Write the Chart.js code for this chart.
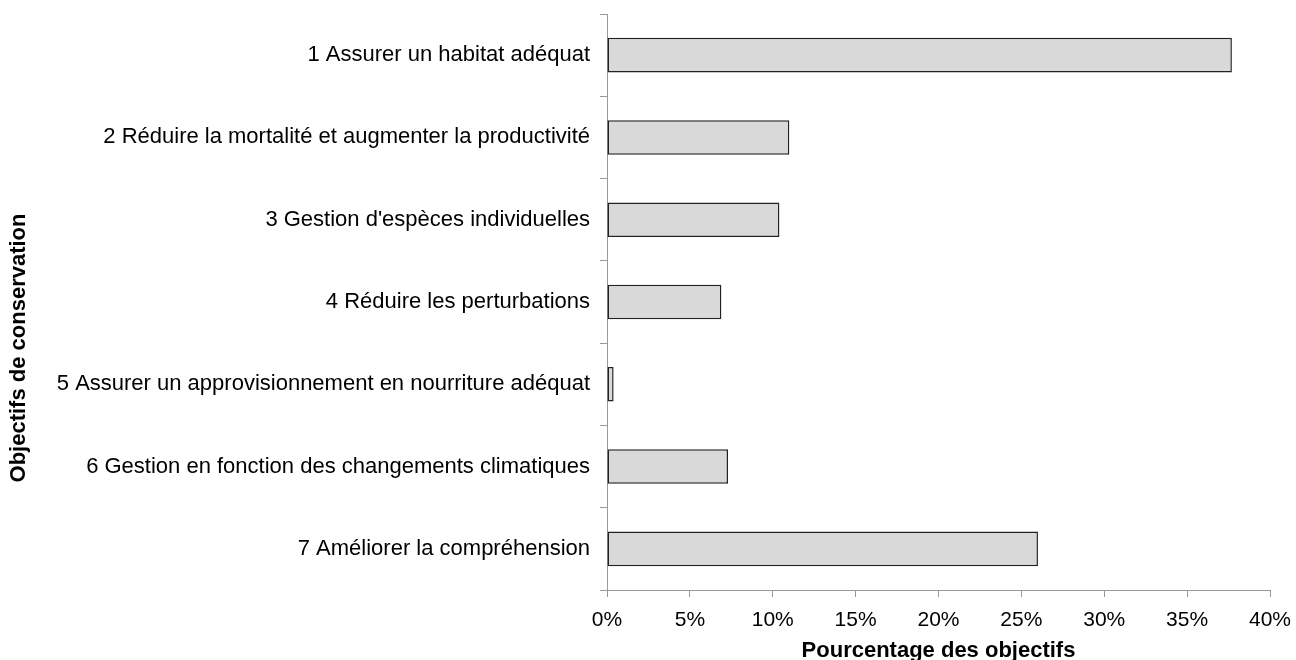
<!DOCTYPE html>
<html>
<head>
<meta charset="utf-8">
<script src="https://cdn.jsdelivr.net/npm/chart.js@4/dist/chart.umd.min.js"></script>
<style>
  html, body { margin: 0; padding: 0; background: #fff; }
  #wrap { width: 1296px; height: 660px; }
</style>
</head>
<body>
<div id="wrap"><canvas id="chart"></canvas></div>
<script>
// ===== Data =====
const categories = [
    "1 Assurer un habitat adéquat",
    "2 Réduire la mortalité et augmenter la productivité",
    "3 Gestion d'espèces individuelles",
    "4 Réduire les perturbations",
    "5 Assurer un approvisionnement en nourriture adéquat",
    "6 Gestion en fonction des changements climatiques",
    "7 Améliorer la compréhension"
];
const percentages = [37.7, 11.0, 10.4, 6.9, 0.4, 7.3, 26.0];
const xTicks = [0, 5, 10, 15, 20, 25, 30, 35, 40];
const yTitle = 'Objectifs de conservation';
const xTitle = 'Pourcentage des objectifs';

const fontFamily = "'Liberation Sans', Arial, sans-serif";
Chart.defaults.font.family = fontFamily;
Chart.defaults.color = '#000';

// Excel places the vertical title a bit lower than the plot centre
const yTitlePlugin = {
    id: 'yTitle',
    afterDraw(chart) {
        const c = chart.ctx;
        c.save();
        c.translate(19, 348);
        c.rotate(-Math.PI / 2);
        c.font = 'bold 22px ' + fontFamily;
        c.fillStyle = '#000';
        c.textAlign = 'center';
        c.textBaseline = 'middle';
        c.fillText(yTitle, 0, 0);
        c.restore();
    }
};

const ctx = document.getElementById('chart').getContext('2d');
new Chart(ctx, {
    type: 'bar',
    data: {
        labels: categories,
        datasets: [{
            data: percentages,
            backgroundColor: '#d9d9d9',
            borderColor: '#222',
            borderWidth: 1.5,
            borderSkipped: false,
            categoryPercentage: 1,
            barPercentage: 0.42
        }]
    },
    plugins: [yTitlePlugin],
    options: {
        indexAxis: 'y',
        responsive: true,
        maintainAspectRatio: false,
        animation: false,
        layout: { padding: { top: 14, right: 26, left: 0, bottom: 0 } },
        plugins: {
            legend: { display: false },
            tooltip: { enabled: false }
        },
        scales: {
            x: {
                min: 0,
                max: 40,
                afterBuildTicks: (scale) => {
                    scale.ticks = xTicks.map(v => ({ value: v }));
                },
                afterFit: (scale) => {
                    scale.height = 70;
                    scale.paddingLeft = 0;
                    scale.paddingRight = 0;
                },
                ticks: {
                    font: { size: 21 },
                    padding: 11,
                    callback: (v) => v + '%'
                },
                grid: {
                    drawOnChartArea: false,
                    tickLength: 7,
                    color: '#999'
                },
                border: { color: '#999' },
                title: {
                    display: true,
                    text: xTitle,
                    font: { size: 22, weight: 'bold' },
                    padding: { top: 7, bottom: -4 }
                }
            },
            y: {
                afterFit: (scale) => {
                    scale.width = 607;
                    scale.paddingTop = 0;
                    scale.paddingBottom = 0;
                },
                ticks: {
                    font: { size: 22 },
                    padding: 10
                },
                grid: {
                    drawOnChartArea: false,
                    tickLength: 7,
                    color: '#999',
                    offset: true
                },
                border: { color: '#999' }
            }
        }
    }
});
</script>
</body>
</html>
